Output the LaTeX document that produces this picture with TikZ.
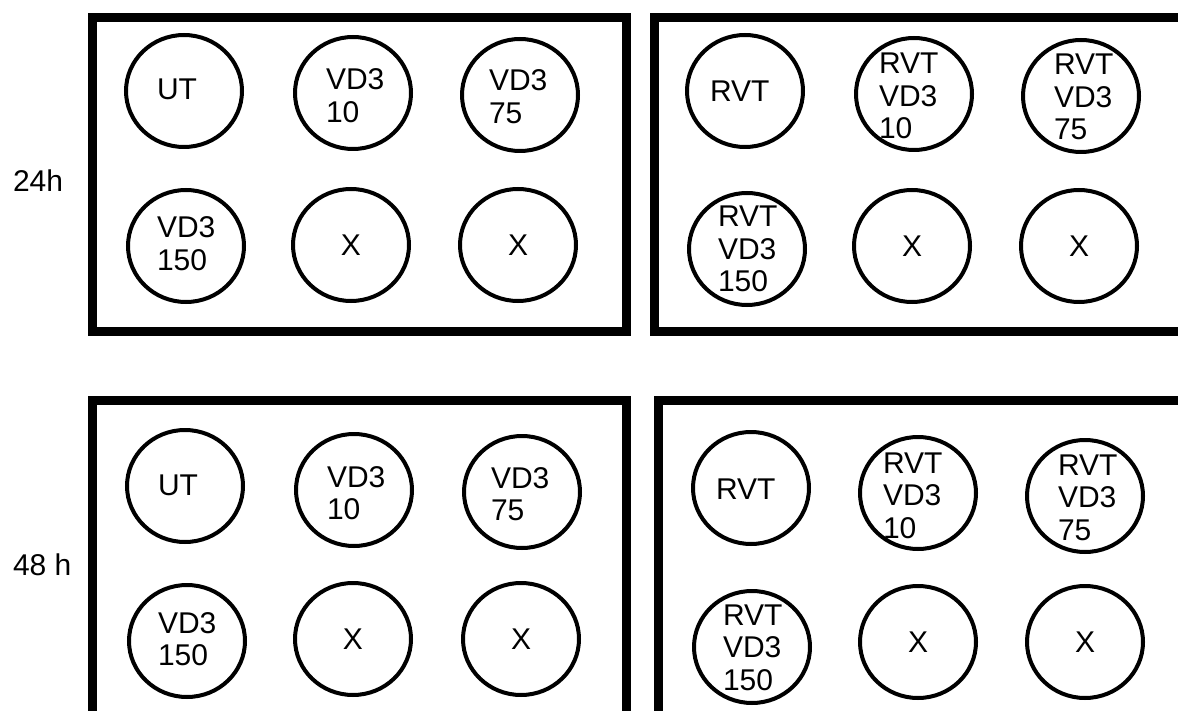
\documentclass[tikz,border=0pt]{standalone}
\usepackage{fontspec}
\setmainfont{Liberation Sans}
\usetikzlibrary{shapes.geometric}
\tikzset{
  panel/.style={draw=black, line width=9pt},
  dish/.style={draw=black, ellipse, line width=4pt, minimum width=116pt, minimum height=112pt, inner sep=0pt},
  lbl/.style={inner sep=0pt, outer sep=0pt, font=\fontsize{30}{32.5}\selectfont},
  side/.style={inner sep=0pt, outer sep=0pt, font=\fontsize{30}{32.5}\selectfont, anchor=base west},
}
% #1 name, #2 cx, #3 cy, #4 dx, #5 dy (first baseline), #6 text
\newcommand{\dishtxt}[6]{%
  \node[dish] (#1) at (#2,#3) {};
  \node[lbl, anchor=base west] (#1t) at ({#2+(#4)},{#3+(#5)}) {#6};
}
\newcommand{\dishx}[3]{%
  \node[dish] (#1) at (#2,#3) {};
  \node[lbl] (#1t) at (#1.center) {X};
}
\newcommand{\twol}[2]{\vtop{\hbox{#1}\hbox{#2}}}
\newcommand{\threel}[3]{\vtop{\hbox{#1}\hbox{#2}\hbox{#3}}}
\begin{document}
\begin{tikzpicture}[x=1pt,y=-1pt]
\useasboundingbox (0,0) rectangle (1178,711);
\path[fill=white] (0,0) rectangle (1178,711);
% panels
\draw[panel] (92.5,17.5) rectangle (626.5,331.5);
\draw[panel] (1195,17.5) -- (654.5,17.5) -- (654.5,331.5) -- (1195,331.5);
\draw[panel] (92.5,720) -- (92.5,400.5) -- (626.5,400.5) -- (626.5,720);
\draw[panel] (1195,400.5) -- (658.5,400.5) -- (658.5,720);
% row labels
\node[side] (l24) at (13,192) {24h};
\node[side] (l48) at (13,575) {48 h};
% top-left
\dishtxt{a1}{184}{91}{-27}{9}{UT}
\dishtxt{a2}{353}{93}{-27}{-3}{\twol{VD3}{10}}
\dishtxt{a3}{520}{95}{-31}{-4}{\twol{VD3}{75}}
\dishtxt{a4}{186}{246}{-29}{-8}{\twol{VD3}{150}}
\dishx{a5}{351}{245}
\dishx{a6}{518}{245}
% top-right
\dishtxt{b1}{745}{91}{-35}{11}{RVT}
\dishtxt{b2}{914}{94}{-35}{-20}{\threel{RVT}{VD3}{10}}
\dishtxt{b3}{1081}{96}{-27}{-21}{\threel{RVT}{VD3}{75}}
\dishtxt{b4}{747}{249}{-29}{-22}{\threel{RVT}{VD3}{150}}
\dishx{b5}{912}{246}
\dishx{b6}{1079}{246}
% bottom-left
\dishtxt{c1}{185}{486}{-27}{9}{UT}
\dishtxt{c2}{354}{490}{-27}{-3}{\twol{VD3}{10}}
\dishtxt{c3}{522}{492}{-31}{-4}{\twol{VD3}{75}}
\dishtxt{c4}{187}{641}{-29}{-8}{\twol{VD3}{150}}
\dishx{c5}{353}{639}
\dishx{c6}{521}{639}
% bottom-right
\dishtxt{d1}{751}{488}{-35}{11}{RVT}
\dishtxt{d2}{918}{493}{-35}{-20}{\threel{RVT}{VD3}{10}}
\dishtxt{d3}{1085}{496}{-27}{-21}{\threel{RVT}{VD3}{75}}
\dishtxt{d4}{752}{647}{-29}{-22}{\threel{RVT}{VD3}{150}}
\dishx{d5}{918}{642}
\dishx{d6}{1085}{642}
\end{tikzpicture}
\end{document}
